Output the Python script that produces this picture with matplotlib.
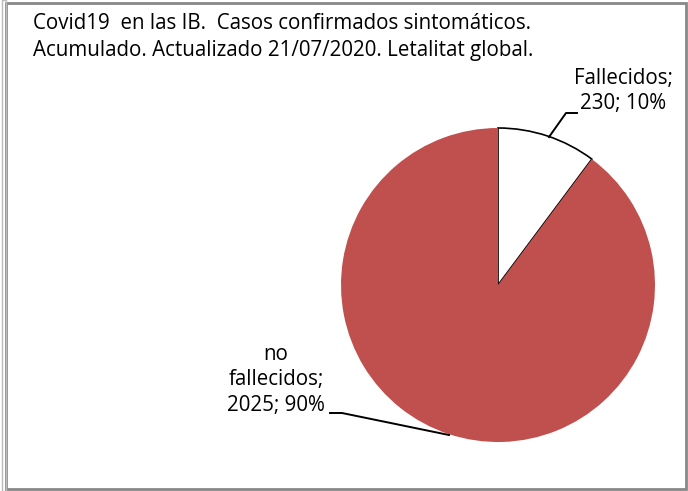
import numpy as np
import matplotlib.pyplot as plt
from matplotlib.patches import Rectangle

labels = ["Fallecidos", "no fallecidos"]
values = [230, 2025]
colors = ["white", "#C0504D"]
title = "Covid19  en las IB.  Casos confirmados sintomáticos.\nAcumulado. Actualizado 21/07/2020. Letalitat global."

plt.rcParams['font.family'] = ['Open Sans', 'DejaVu Sans']

fig = plt.figure(figsize=(6.88, 4.91), dpi=100)
W, H = 688, 491

# pie axes: centre (498,285), radius 157 px
cx, cy, r = 498, 285, 157
ax = fig.add_axes([(cx - r) / W, 1 - (cy + r) / H, 2 * r / W, 2 * r / H])
wedges, _ = ax.pie(values, colors=colors, startangle=90, counterclock=False,
                   wedgeprops=dict(edgecolor="black", linewidth=1.2), radius=1.0)
wedges[1].set_edgecolor("#C0504D")
wedges[1].set_linewidth(0)
ax.set_xlim(-1, 1)
ax.set_ylim(-1, 1)
ax.set_aspect("equal")

total = sum(values)
pcts = [round(v / total * 100) for v in values]

def px(x, y):
    return ((x - cx) / r, (cy - y) / r)

# labels
fig.text(623 / W, 1 - 91 / H, "%s;\n%d; %d%%" % (labels[0], values[0], pcts[0]),
         ha="center", va="center", fontsize=14.8, linespacing=1.3)
fig.text(276 / W, 1 - 380 / H, "no\nfallecidos;\n%d; %d%%" % (values[1], pcts[1]),
         ha="center", va="center", fontsize=14.8, linespacing=1.3)

# leader lines
p = [px(577, 113), px(566, 113), px(549, 137)]
ax.plot([q[0] for q in p], [q[1] for q in p], color="black", lw=1.4, clip_on=False)
p = [px(330, 413), px(342, 413), px(449, 435)]
ax.plot([q[0] for q in p], [q[1] for q in p], color="black", lw=1.4, clip_on=False)

fig.text(33 / W, 1 - 37 / H, title, ha="left", va="center", fontsize=14.8, linespacing=1.35)

# border
fig.patches.append(Rectangle((6 / W, 2 / H), 680 / W, 486 / H, transform=fig.transFigure,
                             fill=False, edgecolor="#888888", lw=2))
fig.patches.append(Rectangle((2 / W, 0), 4 / W, 1, transform=fig.transFigure,
                             fill=False, edgecolor="#bbbbbb", lw=1))

fig.savefig("out.png", dpi=100)
